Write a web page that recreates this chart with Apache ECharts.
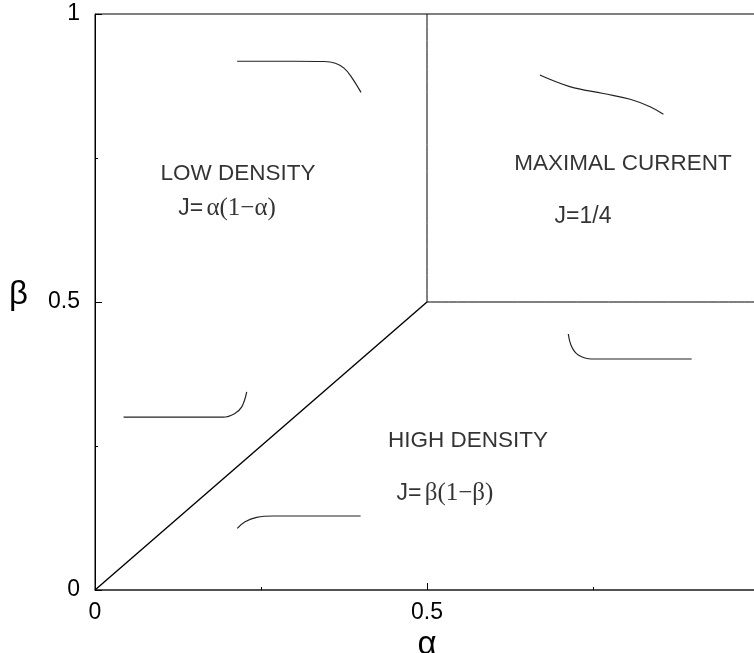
<!DOCTYPE html>
<html>
<head>
<meta charset="utf-8">
<script src="https://cdn.jsdelivr.net/npm/echarts@6/dist/echarts.min.js"></script>
<style>html,body{margin:0;padding:0;background:#fff}#c{width:754px;height:653px}</style>
</head>
<body>
<div id="c"></div>
<script>
// Phase boundaries
const boundaryDiagonal = [[0, 0], [0.5, 0.5]];
const boundaryVertical = [[0.5, 0.5], [0.5, 1]];
const boundaryHorizontal = [[0.5, 0.5], [1, 0.5]];

// Density profile sketches (alpha, beta coordinates)
const profileLowTop = [[0.214, 0.918], [0.300, 0.918], [0.345, 0.9175], [0.362, 0.9145], [0.375, 0.906], [0.386, 0.891], [0.4006, 0.864]];
const profileMaxCurrent = [[0.670, 0.894], [0.715, 0.874], [0.7655, 0.862], [0.806, 0.852], [0.836, 0.839], [0.856, 0.826]];
const profileLowLeft = [[0.043, 0.300], [0.150, 0.300], [0.193, 0.300], [0.210, 0.306], [0.221, 0.318], [0.2285, 0.344]];
const profileHighBottom = [[0.2143, 0.107], [0.226, 0.1186], [0.2435, 0.1262], [0.2685, 0.1285], [0.400, 0.1285]];
const profileHighRight = [[0.7128, 0.4444], [0.7179, 0.4224], [0.7279, 0.408], [0.748, 0.401], [0.8986, 0.401]];

// Region labels
const regionLabels = [
  {name: 'LOW DENSITY', value: [0.2154, 0.722]},
  {name: 'MAXIMAL CURRENT', value: [0.7952, 0.7396]},
  {name: 'HIGH DENSITY', value: [0.5617, 0.2587]}
];
const currentLabels = [
  {name: '{s|J=} {g|α(1−α)}', value: [0.1988, 0.662]},
  {name: '{s|J=1/4}', value: [0.735, 0.649]},
  {name: '{s|J=} {g|β(1−β)}', value: [0.527, 0.167]}
];
const tickLabels = ['0', '0.5', '1'];

function lineSeries(data, width, color) {
  return {type: 'line', data: data, showSymbol: false, symbol: 'none', smooth: 0.4,
    lineStyle: {color: color, width: width}, silent: true, animation: false, z: 3};
}

const chart = echarts.init(document.getElementById('c'), null, {renderer: 'canvas'});
chart.setOption({
  animation: false,
  backgroundColor: '#fff',
  grid: {left: 95, top: 14, width: 664, height: 576, outerBoundsMode: 'none', containLabel: false,
    show: true, borderColor: '#000', borderWidth: 1, backgroundColor: 'transparent'},
  xAxis: {
    type: 'value', min: 0, max: 1, interval: 0.5,
    name: 'α', nameLocation: 'middle', nameGap: 27,
    nameTextStyle: {fontSize: 33, color: '#000', fontFamily: 'Liberation Sans'},
    axisLine: {show: true, lineStyle: {color: '#444', width: 1.5}},
    axisTick: {show: true, inside: true, length: 7, lineStyle: {color: '#000'}},
    minorTick: {show: true, splitNumber: 2, length: 3, lineStyle: {color: '#000'}},
    splitLine: {show: false},
    axisLabel: {fontSize: 23, color: '#000', fontFamily: 'Liberation Sans', margin: 11,
      formatter: v => tickLabels[Math.round(v * 2)]}
  },
  yAxis: {
    type: 'value', min: 0, max: 1, interval: 0.5,
    name: '{b|β}', nameLocation: 'middle', nameGap: 67, nameRotate: 0,
    nameTextStyle: {rich: {b: {fontSize: 33, color: '#000', fontFamily: 'Liberation Sans', padding: [0, 0, 14, 0]}}},
    axisLine: {show: true, lineStyle: {color: '#000', width: 1}},
    axisTick: {show: true, inside: true, length: 7, lineStyle: {color: '#000'}},
    minorTick: {show: true, splitNumber: 2, length: 3, lineStyle: {color: '#000'}},
    splitLine: {show: false},
    axisLabel: {fontSize: 23, color: '#000', fontFamily: 'Liberation Sans', margin: 15,
      formatter: v => tickLabels[Math.round(v * 2)]}
  },
  series: [
    lineSeries(boundaryDiagonal, 1.4, '#000'),
    lineSeries(boundaryVertical, 1, '#000'),
    lineSeries(boundaryHorizontal, 1, '#000'),
    lineSeries(profileLowTop, 1.2, '#222'),
    lineSeries(profileMaxCurrent, 1.2, '#222'),
    lineSeries(profileLowLeft, 1.2, '#222'),
    lineSeries(profileHighBottom, 1.2, '#222'),
    lineSeries(profileHighRight, 1.2, '#222'),
    {
      type: 'scatter', data: regionLabels, symbolSize: 0, silent: true, z: 5,
      label: {show: true, position: 'inside', formatter: p => p.name, fontSize: 22.5, color: '#000', fontFamily: 'Liberation Sans'}
    },
    {
      type: 'scatter', data: currentLabels, symbolSize: 0, silent: true, z: 5,
      label: {show: true, position: 'inside', formatter: p => p.name,
        rich: {
          s: {fontSize: 23, color: '#000', fontFamily: 'Liberation Sans'},
          g: {fontSize: 25, color: '#000', fontFamily: 'Liberation Serif'}
        }}
    }
  ]
});
</script>
</body>
</html>
